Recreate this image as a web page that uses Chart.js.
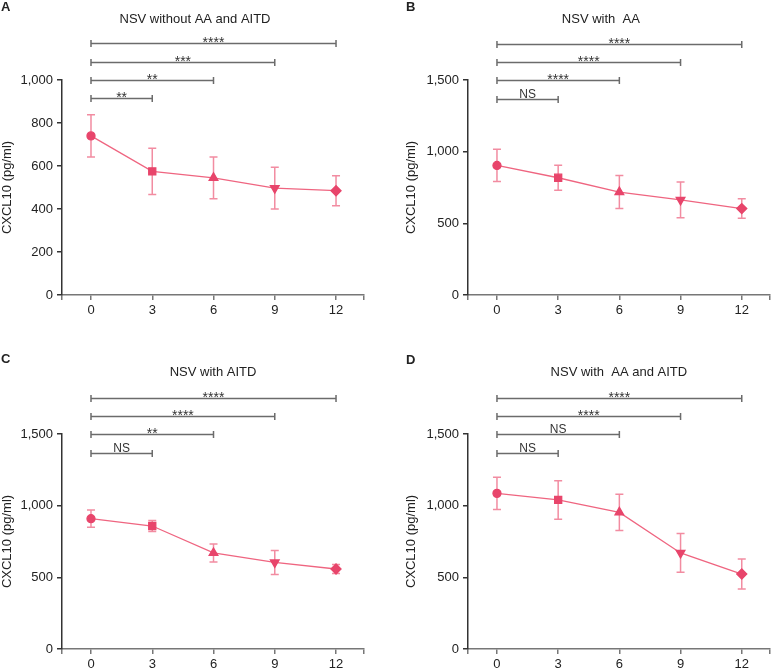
<!DOCTYPE html>
<html>
<head>
<meta charset="utf-8">
<title>CXCL10 over time</title>
<script src="https://cdn.jsdelivr.net/npm/chart.js@4/dist/chart.umd.min.js"></script>
<style>
  body { margin: 0; background: #fff; overflow: hidden; }
  #wrap { position: relative; width: 771px; height: 668px; overflow: hidden; }
  canvas { position: absolute; }
</style>
</head>
<body>
<div id="wrap">
  <canvas id="chartA" width="385" height="330" style="left:0;top:0"></canvas>
  <canvas id="chartB" width="391" height="330" style="left:385px;top:0"></canvas>
  <canvas id="chartC" width="385" height="338" style="left:0;top:330px"></canvas>
  <canvas id="chartD" width="391" height="338" style="left:385px;top:330px"></canvas>
</div>
<script>
// time points (months)
const months = [0, 3, 6, 9, 12];

// mean and error of CXCL10 (pg/ml) for each group
const meanA = [740, 575, 545, 497, 485];
const errA = [98, 107, 97, 97, 70];
const meanB = [904, 818, 718, 664, 603];
const errB = [113, 88, 115, 125, 68];
const meanC = [909, 858, 670, 604, 558];
const errC = [60, 38, 63, 84, 32];
const meanD = [1086, 1040, 953, 670, 523];
const errD = [113, 134, 127, 135, 105];

// y axis ticks
const yTicksA = [0, 200, 400, 600, 800, 1000];
const yTicksBCD = [0, 500, 1000, 1500];

// significance brackets: month 0 vs each later month
const bracketTo = [3, 6, 9, 12];
const bracketLevelsA = [916, 1000, 1085, 1170];
const bracketLevelsBCD = [1370, 1500, 1625, 1750];
const sigA = ["**", "**", "***", "****"];
const sigB = ["NS", "****", "****", "****"];
const sigC = ["NS", "**", "****", "****"];
const sigD = ["NS", "NS", "****", "****"];

const titles = ["NSV without AA and AITD", "NSV with  AA", "NSV with AITD", "NSV with  AA and AITD"];

Chart.defaults.font.family = "'Liberation Sans', Arial, sans-serif";
Chart.defaults.font.size = 13;
Chart.defaults.color = "#222";

// error bars, drawn under the markers
const errorBarPlugin = {
  id: "errorBars",
  beforeDatasetsDraw(chart, args, opts) {
    const ctx = chart.ctx;
    const y = chart.scales.y;
    const meta = chart.getDatasetMeta(0);
    ctx.save();
    ctx.strokeStyle = "#f28ca1";
    ctx.lineWidth = 1.5;
    meta.data.forEach((pt, i) => {
      const m = opts.means[i];
      const e = opts.errors[i];
      const top = y.getPixelForValue(m + e);
      const bot = y.getPixelForValue(m - e);
      ctx.beginPath();
      ctx.moveTo(pt.x, top);
      ctx.lineTo(pt.x, bot);
      ctx.moveTo(pt.x - 4, top);
      ctx.lineTo(pt.x + 4, top);
      ctx.moveTo(pt.x - 4, bot);
      ctx.lineTo(pt.x + 4, bot);
      ctx.stroke();
    });
    ctx.restore();
  }
};

// brackets, panel title and letter
const decorPlugin = {
  id: "decor",
  afterDraw(chart, args, opts) {
    const ctx = chart.ctx;
    const xs = chart.scales.x;
    const ys = chart.scales.y;
    const area = chart.chartArea;
    ctx.save();
    ctx.strokeStyle = "#6b6b6b";
    ctx.lineWidth = 1.5;
    ctx.fillStyle = "#333";
    ctx.textAlign = "center";
    bracketTo.forEach((to, i) => {
      const x1 = xs.getPixelForValue(months[0]);
      const x2 = xs.getPixelForValue(to);
      const yy = Math.round(ys.getPixelForValue(opts.levels[i])) + 0.5;
      ctx.beginPath();
      ctx.moveTo(x1, yy);
      ctx.lineTo(x2, yy);
      ctx.moveTo(x1, yy - 3.5);
      ctx.lineTo(x1, yy + 3.5);
      ctx.moveTo(x2, yy - 3.5);
      ctx.lineTo(x2, yy + 3.5);
      ctx.stroke();
      const label = opts.labels[i];
      ctx.textBaseline = "alphabetic";
      if (label.indexOf("*") >= 0) {
        ctx.font = "14px 'Liberation Sans', Arial, sans-serif";
        ctx.fillText(label, (x1 + x2) / 2, yy + 3);
      } else {
        ctx.font = "12px 'Liberation Sans', Arial, sans-serif";
        ctx.fillText(label, (x1 + x2) / 2, yy - 2);
      }
    });
    // title
    ctx.fillStyle = "#222";
    ctx.font = "13px 'Liberation Sans', Arial, sans-serif";
    ctx.textBaseline = "middle";
    ctx.fillText(opts.title, (area.left + area.right) / 2 + opts.titleShift, opts.titleY);
    // panel letter
    ctx.font = "bold 13px 'Liberation Sans', Arial, sans-serif";
    ctx.textAlign = "left";
    ctx.fillText(opts.letter, opts.letterX, opts.letterY);
    ctx.restore();
  }
};

function makeChart(id, means, errors, yTicks, levels, labels, cfg) {
  const ctx = document.getElementById(id).getContext("2d");
  const yMax = yTicks[yTicks.length - 1];
  return new Chart(ctx, {
    type: "line",
    data: {
      datasets: [{
        data: months.map((m, i) => ({ x: m, y: means[i] })),
        borderColor: "#ef6580",
        borderWidth: 1.3,
        backgroundColor: "#e8456b",
        pointBorderColor: "#e8456b",
        pointBackgroundColor: "#e8456b",
        pointStyle: ["circle", "rect", "triangle", "triangle", "rectRot"],
        pointRotation: [0, 0, 0, 180, 0],
        pointRadius: [4, 5, 5, 5, 5],
        tension: 0
      }]
    },
    options: {
      responsive: false,
      animation: false,
      devicePixelRatio: 1,
      layout: { padding: cfg.padding },
      plugins: {
        legend: { display: false },
        tooltip: { enabled: false },
        errorBars: { means: means, errors: errors },
        decor: {
          levels: levels,
          labels: labels,
          title: cfg.title,
          titleShift: cfg.titleShift,
          titleY: cfg.titleY,
          letter: cfg.letter,
          letterX: cfg.letterX,
          letterY: cfg.letterY
        }
      },
      scales: {
        x: {
          type: "linear",
          min: -1.42,
          max: 13.37,
          afterBuildTicks: (s) => {
            s.ticks = [s.min].concat(months, [s.max]).map((v) => ({ value: v }));
          },
          afterFit: (s) => { s.height = cfg.xHeight; },
          ticks: {
            autoSkip: false,
            maxRotation: 0,
            padding: 3,
            color: "#222",
            callback: (v) => (months.includes(v) ? String(v) : "")
          },
          grid: { drawOnChartArea: false, drawTicks: true, tickLength: 5, color: "#777", lineWidth: 1.5 },
          border: { display: true, color: "#777", width: 1.5 }
        },
        y: {
          min: 0,
          max: yMax,
          afterBuildTicks: (s) => {
            s.ticks = yTicks.map((v) => ({ value: v }));
          },
          afterFit: (s) => { s.width = cfg.yWidth; },
          ticks: {
            padding: 4,
            color: "#222",
            callback: (v) => v.toLocaleString("en-US")
          },
          title: {
            display: true,
            text: "CXCL10 (pg/ml)",
            color: "#222",
            font: { size: 13 },
            padding: { top: 0, bottom: 0 }
          },
          grid: { drawOnChartArea: false, drawTicks: true, tickLength: 5, color: "#333", lineWidth: 1.5 },
          border: { display: true, color: "#333", width: 1.5 }
        }
      }
    },
    plugins: [errorBarPlugin, decorPlugin]
  });
}

makeChart("chartA", meanA, errA, yTicksA, bracketLevelsA, sigA, {
  padding: { left: 0, right: 21, top: 80, bottom: 5 },
  yWidth: 62, xHeight: 30,
  title: titles[0], titleShift: -18, titleY: 19,
  letter: "A", letterX: 1, letterY: 7
});
makeChart("chartB", meanB, errB, yTicksBCD, bracketLevelsBCD, sigB, {
  padding: { left: 19, right: 6, top: 80, bottom: 5 },
  yWidth: 64, xHeight: 30,
  title: titles[1], titleShift: -18, titleY: 19,
  letter: "B", letterX: 21, letterY: 7
});
makeChart("chartC", meanC, errC, yTicksBCD, bracketLevelsBCD, sigC, {
  padding: { left: 0, right: 21, top: 104, bottom: 0 },
  yWidth: 62, xHeight: 19,
  title: titles[2], titleShift: 0, titleY: 42,
  letter: "C", letterX: 1, letterY: 29
});
makeChart("chartD", meanD, errD, yTicksBCD, bracketLevelsBCD, sigD, {
  padding: { left: 19, right: 6, top: 104, bottom: 0 },
  yWidth: 64, xHeight: 19,
  title: titles[3], titleShift: 0, titleY: 42,
  letter: "D", letterX: 21, letterY: 30
});
</script>
</body>
</html>
